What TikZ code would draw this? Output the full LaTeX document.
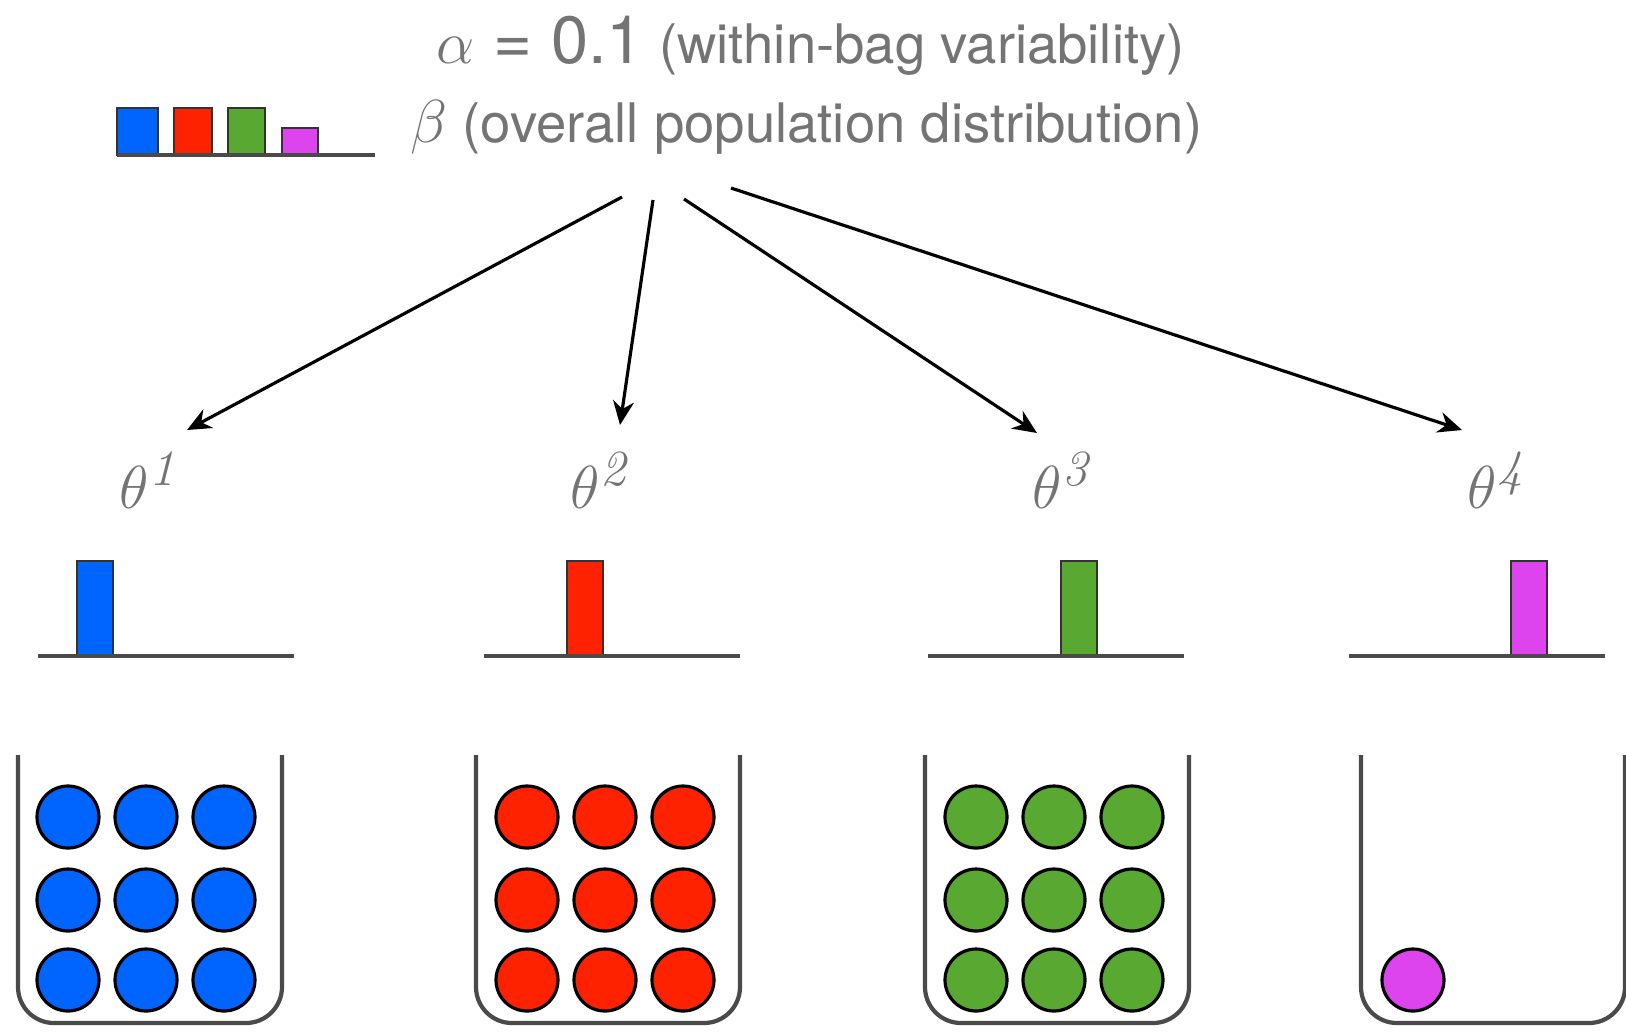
\documentclass[tikz,border=0pt]{standalone}
\usepackage[no-math]{fontspec}
\setmainfont{TeX Gyre Heros}
\usepackage{tikz}
\usetikzlibrary{arrows.meta}
\definecolor{bagblue}{HTML}{0064FF}
\definecolor{bagred}{HTML}{FF2200}
\definecolor{baggreen}{HTML}{58A832}
\definecolor{bagpink}{HTML}{DD44EE}
\definecolor{txtc}{HTML}{747474}
\definecolor{linec}{HTML}{4A4A4A}
\tikzset{
  ar/.style={-{Stealth[length=2.4mm,width=2.1mm]},line width=0.9pt,black},
  bar/.style={draw=black!80,line width=0.5pt},
  axis/.style={linec,line width=1.2pt},
  bag/.style={linec,line width=1.2pt,rounded corners=3.6mm},
  ball/.style={draw=black,line width=0.9pt},
  lbl/.style={text=txtc,inner sep=0pt,font=\fontsize{15.5}{17}\selectfont},
  th/.style={text=txtc,inner sep=0pt,anchor=base west,font=\fontsize{19}{19}\selectfont}
}

\begin{document}
\begin{tikzpicture}[x=0.01cm,y=-0.01cm]
\useasboundingbox (0,0) rectangle (1626,1035);
% parameters
\node[lbl,anchor=base west] (alpha) at (436,63) {{\fontsize{19}{19}\selectfont $\alpha$ = 0.1} (within-bag variability)};
\node[lbl,anchor=base west] (beta) at (410,142) {{\fontsize{19}{19}\selectfont $\beta$} (overall population distribution)};
% small overall histogram
\fill[bagblue,bar] (117,108) rectangle (158,155);
\fill[bagred,bar] (174,108) rectangle (212,155);
\fill[baggreen,bar] (228,108) rectangle (265,155);
\fill[bagpink,bar] (282,128) rectangle (318,155);
\draw[axis] (117,155) -- (375,155);
% theta labels
\node[th] (th1) at (119,508) {$\theta^{\mathit{1}}$};
\node[th] (th2) at (570,508) {$\theta^{\mathit{2}}$};
\node[th] (th3) at (1032,508) {$\theta^{\mathit{3}}$};
\node[th] (th4) at (1467,508) {$\theta^{\mathit{4}}$};
% arrows
\coordinate (s1) at (622,197); \coordinate (e1) at (187,430);
\coordinate (s2) at (653,200); \coordinate (e2) at (620,425);
\coordinate (s3) at (684,199); \coordinate (e3) at (1037,433);
\coordinate (s4) at (731,188); \coordinate (e4) at (1462,430);
\foreach \i in {1,...,4} \draw[ar] (s\i) -- (e\i);
% per-bag histograms
\foreach \c/\bx/\lx in {bagblue/77/38,bagred/567/484,baggreen/1061/928,bagpink/1511/1349}{
  \fill[\c,bar] (\bx,561) rectangle ({\bx+36},656);
  \draw[axis] (\lx,656) -- ({\lx+256},656);
}
% bags
\foreach \lx in {18,476,925,1361}
  \draw[bag] (\lx,755) -- (\lx,1023) -- ({\lx+264},1023) -- ({\lx+264},755);
% balls
\foreach \c/\lx in {bagblue/68,bagred/527,baggreen/976}
  \foreach \dx in {0,78,156}
    \foreach \y in {817,900,980}
      \fill[\c,ball] ({\lx+\dx},\y) circle (31);
\fill[bagpink,ball] (1413,980) circle (31);
\end{tikzpicture}
\end{document}
